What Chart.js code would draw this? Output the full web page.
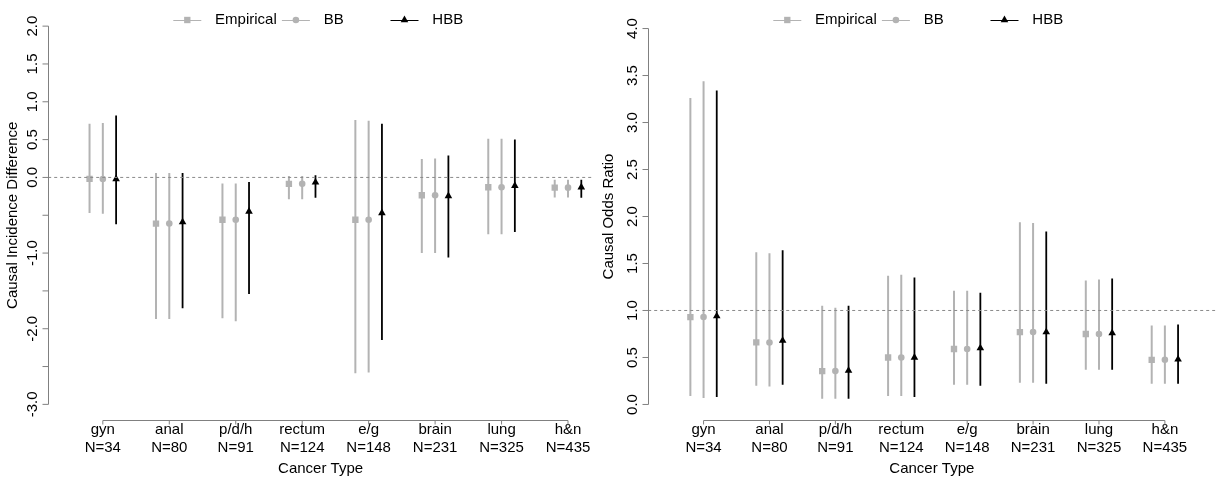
<!DOCTYPE html>
<html><head><meta charset="utf-8">
<script src="https://cdn.jsdelivr.net/npm/chart.js@4.4.1/dist/chart.umd.min.js"></script>
<style>
html,body{margin:0;padding:0;background:#fff;width:1220px;height:482px;overflow:hidden;}
#left{position:absolute;left:0;top:0;}
#right{position:absolute;left:600px;top:0;}
</style></head><body>
<canvas id="left" width="600" height="482"></canvas>
<canvas id="right" width="620" height="482"></canvas>
<script>
// ---------------- data ----------------
const categories  = ['gyn','anal','p/d/h','rectum','e/g','brain','lung','h&n'];
const sampleSizes = ['N=34','N=80','N=91','N=124','N=148','N=231','N=325','N=435'];
const seriesNames = ['Empirical','BB','HBB'];

// Causal Incidence Difference (left panel)
const empRD   = [-0.02,-0.61,-0.56,-0.085,-0.56,-0.235,-0.13,-0.135];
const empRDlo = [-0.47,-1.87,-1.86,-0.29,-2.59,-1.00,-0.75,-0.265];
const empRDhi = [0.71,0.06,-0.08,0.02,0.76,0.245,0.51,-0.03];
const bbRD    = [-0.02,-0.61,-0.56,-0.085,-0.56,-0.235,-0.13,-0.135];
const bbRDlo  = [-0.48,-1.87,-1.90,-0.29,-2.58,-1.00,-0.75,-0.265];
const bbRDhi  = [0.72,0.06,-0.08,0.02,0.75,0.25,0.51,-0.03];
const hbbRD   = [-0.02,-0.59,-0.45,-0.065,-0.47,-0.245,-0.11,-0.13];
const hbbRDlo = [-0.62,-1.73,-1.54,-0.27,-2.15,-1.06,-0.72,-0.27];
const hbbRDhi = [0.82,0.06,-0.06,0.03,0.71,0.29,0.50,-0.03];

// Causal Odds Ratio (right panel)
const empOR   = [0.93,0.66,0.355,0.50,0.59,0.77,0.75,0.475];
const empORlo = [0.09,0.20,0.06,0.09,0.21,0.23,0.37,0.22];
const empORhi = [3.26,1.62,1.05,1.37,1.21,1.94,1.32,0.84];
const bbOR    = [0.93,0.66,0.355,0.50,0.59,0.77,0.75,0.475];
const bbORlo  = [0.07,0.19,0.06,0.09,0.21,0.23,0.37,0.22];
const bbORhi  = [3.44,1.61,1.03,1.38,1.21,1.93,1.33,0.84];
const hbbOR   = [0.94,0.68,0.36,0.50,0.60,0.77,0.76,0.48];
const hbbORlo = [0.08,0.21,0.06,0.08,0.20,0.22,0.37,0.22];
const hbbORhi = [3.34,1.64,1.05,1.35,1.19,1.84,1.34,0.85];

// tick values / labels
const rdTickValues = [-3,-2.5,-2,-1.5,-1,-0.5,0,0.5,1,1.5,2];
const rdTickLabels = ['-3.0','','-2.0','','-1.0','','0.0','0.5','1.0','1.5','2.0'];
const orTickValues = [0,0.5,1,1.5,2,2.5,3,3.5,4];
const orTickLabels = ['0.0','0.5','1.0','1.5','2.0','2.5','3.0','3.5','4.0'];
const rdNull = 0;
const orNull = 1;

// ---------------- styles ----------------
Chart.defaults.font.family = "'Liberation Sans', Arial, Helvetica, sans-serif";
Chart.defaults.font.size = 15;
Chart.defaults.color = '#000';
const GREY = '#b3b3b3', BLACK = '#000000';
const seriesOffsets = [-0.2, 0, 0.2];
const seriesStyles = [
  {color: GREY,  point: 'rect',     radius: 4.5, lw: 2},
  {color: GREY,  point: 'circle',   radius: 3.3, lw: 2},
  {color: BLACK, point: 'triangle', radius: 4.4, lw: 1.8}
];

function drawMarker(ctx, st, x, y) {
  const r = st.radius;
  ctx.fillStyle = st.color;
  ctx.beginPath();
  if (st.point === 'rect') {
    const s = r * Math.SQRT2;
    ctx.rect(x - s / 2, y - s / 2, s, s);
  } else if (st.point === 'circle') {
    ctx.arc(x, y, r, 0, Math.PI * 2);
  } else {
    const h = r * Math.sin(Math.PI * 2 / 3);
    ctx.moveTo(x, y - r);
    ctx.lineTo(x + h, y + r / 2);
    ctx.lineTo(x - h, y + r / 2);
    ctx.closePath();
  }
  ctx.fill();
}

const rAxes = {
  id: 'rAxes',
  afterDatasetsDraw(chart) {
    const {ctx, chartArea: a, scales: {x, y}} = chart;
    ctx.save();
    ctx.strokeStyle = '#808080';
    ctx.lineWidth = 1;
    ctx.beginPath();
    const ax = Math.round(a.left) + 0.5;
    const yt = y.ticks.map(t => y.getPixelForValue(t.value));
    ctx.moveTo(ax, Math.min(...yt)); ctx.lineTo(ax, Math.max(...yt));
    yt.forEach(p => { ctx.moveTo(ax - 6, p); ctx.lineTo(ax, p); });
    const ay = Math.round(a.bottom) + 0.5;
    const xt = x.ticks.map(t => x.getPixelForValue(t.value));
    ctx.moveTo(Math.min(...xt), ay); ctx.lineTo(Math.max(...xt), ay);
    xt.forEach(p => { ctx.moveTo(p, ay); ctx.lineTo(p, ay + 4); });
    ctx.stroke();
    ctx.restore();
  }
};

const rLegend = {
  id: 'rLegend',
  afterDraw(chart) {
    const ctx = chart.ctx;
    ctx.save();
    ctx.font = "15px 'Liberation Sans', Arial, sans-serif";
    ctx.textBaseline = 'middle';
    ctx.textAlign = 'left';
    seriesNames.forEach((name, k) => {
      const st = seriesStyles[k];
      const x0 = 173.3 + k * 108.6, yy = 20;
      ctx.strokeStyle = st.color;
      ctx.lineWidth = 1;
      ctx.beginPath(); ctx.moveTo(x0, yy + 0.5); ctx.lineTo(x0 + 28, yy + 0.5); ctx.stroke();
      drawMarker(ctx, st, x0 + 14, yy);
      ctx.fillStyle = '#000';
      ctx.fillText(name, x0 + 41.8, yy);
    });
    ctx.restore();
  }
};

function makeChart(id, cfg) {
  const datasets = [];
  datasets.push({data: [{x: cfg.xMin, y: cfg.ref}, {x: cfg.xMax, y: cfg.ref}], showLine: true,
    borderColor: '#8a8a8a', borderWidth: 1, borderDash: [3, 3], pointRadius: 0});
  cfg.series.forEach((s, k) => {
    const st = seriesStyles[k];
    const seg = [];
    s.lo.forEach((lo, i) => {
      const xv = i + 1 + seriesOffsets[k];
      seg.push({x: xv, y: lo}, {x: xv, y: s.hi[i]}, {x: xv, y: null});
    });
    datasets.push({data: seg, showLine: true, spanGaps: false, borderColor: st.color,
      borderWidth: st.lw, pointRadius: 0, borderCapStyle: 'butt'});
  });
  cfg.series.forEach((s, k) => {
    const st = seriesStyles[k];
    datasets.push({data: s.est.map((v, i) => ({x: i + 1 + seriesOffsets[k], y: v})), showLine: false,
      pointStyle: st.point, pointRadius: st.radius, pointBackgroundColor: st.color,
      pointBorderColor: st.color, pointBorderWidth: 0});
  });
  return new Chart(document.getElementById(id), {
    type: 'scatter',
    data: {datasets},
    options: {
      responsive: false, animation: false, events: [],
      layout: {padding: {top: 0.5, left: 0, right: cfg.padRight, bottom: 0}},
      plugins: {legend: {display: false}, tooltip: {enabled: false}},
      scales: {
        x: {
          type: 'linear', min: cfg.xMin, max: cfg.xMax,
          afterBuildTicks: sc => { sc.ticks = categories.map((c, i) => ({value: i + 1})); },
          afterFit: sc => { sc.height = 62.5; },
          grid: {display: false, drawTicks: false}, border: {display: false},
          ticks: {autoSkip: false, minRotation: 0, maxRotation: 0, padding: 1.6,
            callback: (v, i) => [categories[i], sampleSizes[i]],
            font: {size: 15, lineHeight: 1.18}},
          title: {display: true, text: 'Cancer Type', font: {size: 15}, padding: {top: 0, bottom: 3.7}}
        },
        y: {
          type: 'linear', min: cfg.yMin, max: cfg.yMax,
          afterBuildTicks: sc => { sc.ticks = cfg.yTicks.map(v => ({value: v})); },
          afterFit: sc => { sc.width = 48.2; },
          grid: {display: false, drawTicks: false}, border: {display: false},
          ticks: {autoSkip: false, minRotation: 90, maxRotation: 90, crossAlign: 'center',
            padding: cfg.yPad, callback: (v, i) => cfg.yLabels[i], font: {size: 15}},
          title: {display: true, text: cfg.yTitle, font: {size: 15}, padding: {top: cfg.titlePad, bottom: 0}}
        }
      }
    },
    plugins: [rAxes, rLegend]
  });
}

makeChart('left', {
  xMin: 0.178, xMax: 8.376, padRight: 7,
  yMin: -3.2, yMax: 2.2, yTicks: rdTickValues, yLabels: rdTickLabels,
  yPad: 2, titlePad: 3.5, ref: rdNull, yTitle: 'Causal Incidence Difference',
  series: [
    {est: empRD, lo: empRDlo, hi: empRDhi},
    {est: bbRD,  lo: bbRDlo,  hi: bbRDhi},
    {est: hbbRD, lo: hbbRDlo, hi: hbbRDhi}
  ]
});
makeChart('right', {
  xMin: 0.160, xMax: 8.768, padRight: 0,
  yMin: -0.16, yMax: 4.16, yTicks: orTickValues, yLabels: orTickLabels,
  yPad: 4.5, titlePad: 0, ref: orNull, yTitle: 'Causal Odds Ratio',
  series: [
    {est: empOR, lo: empORlo, hi: empORhi},
    {est: bbOR,  lo: bbORlo,  hi: bbORhi},
    {est: hbbOR, lo: hbbORlo, hi: hbbORhi}
  ]
});
</script>
</body></html>
